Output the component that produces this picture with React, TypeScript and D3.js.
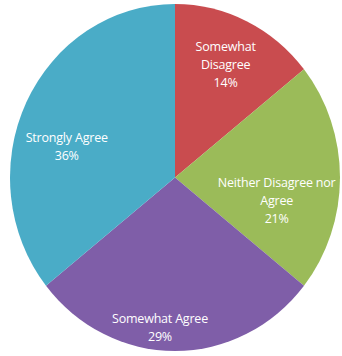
import React from "react";
import * as d3 from "d3";

const categories = ["Somewhat Disagree", "Neither Disagree nor Agree", "Somewhat Agree", "Strongly Agree"];
// response counts (2:3:4:5 of 14 -> 14%, 21%, 29%, 36%)
const values = [2, 3, 4, 5];
const labelNames = [
  ["Somewhat", "Disagree"],
  ["Neither Disagree nor", "Agree"],
  ["Somewhat Agree"],
  ["Strongly Agree"],
];
const colors = ["#c94c4f", "#9bbb59", "#7f5ea8", "#4aacc7"];

// label placement tweaks (radius fraction, angle offset in degrees)
const labelRadius = [0.72, 0.63, 0.87, 0.68];
const labelAngleOffset = [-0.5, 12, 6, -10.5];

const W = 342;
const H = 356;
const cx = 175;
const cy = 177.5;
const rx = 165;
const ry = 173.5;

export default function App() {
  const total = d3.sum(values);
  const pct = d3.format(".0%");
  const pie = d3.pie<number>().value((d) => d).sort(null);
  const arcs = pie(values);
  const arc = d3.arc<d3.PieArcDatum<number>>().innerRadius(0).outerRadius(ry);
  const sx = rx / ry;
  const lineH = 18;

  return (
    <svg
      width={W}
      height={H}
      style={{ position: "absolute", left: 0, top: 0, background: "#fff" }}
    >
      <g transform={`translate(${cx},${cy}) scale(${sx},1)`}>
        {arcs.map((a, i) => (
          <path key={categories[i]} d={arc(a) || ""} fill={colors[i]} />
        ))}
      </g>
      {arcs.map((a, i) => {
        const mid = (a.startAngle + a.endAngle) / 2 + (labelAngleOffset[i] * Math.PI) / 180;
        const k = labelRadius[i];
        const x = cx + Math.sin(mid) * rx * k;
        const y = cy - Math.cos(mid) * ry * k;
        const lines = [...labelNames[i], pct(values[i] / total)];
        const y0 = y - ((lines.length - 1) * lineH) / 2;
        return (
          <text
            key={"l" + i}
            x={x}
            textAnchor="middle"
            fill="#ffffff"
            fontFamily="'Open Sans', sans-serif"
            fontSize={12.5}
            letterSpacing={-0.2}
          >
            {lines.map((ln, j) => (
              <tspan key={j} x={x} y={y0 + j * lineH} dy="0.35em">
                {ln}
              </tspan>
            ))}
          </text>
        );
      })}
    </svg>
  );
}
